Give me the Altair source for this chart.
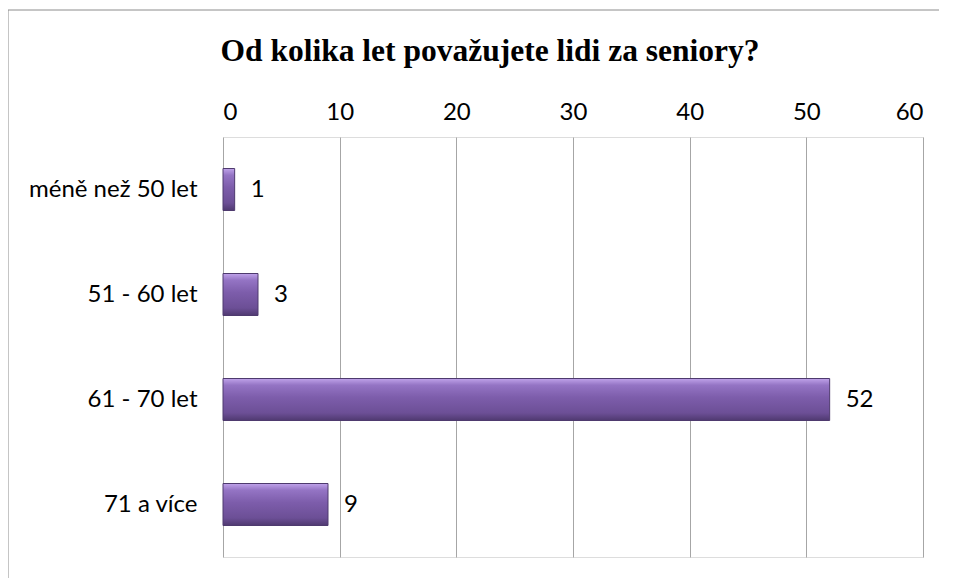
import altair as alt
import pandas as pd

categories = ["méně než 50 let", "51 - 60 let", "61 - 70 let", "71 a více"]
values = [1, 3, 52, 9]
x_ticks = [0, 10, 20, 30, 40, 50, 60]
title_text = "Od kolika let považujete lidi za seniory?"

df = pd.DataFrame({"cat": categories, "val": values})

LABEL_FONT = "Lato"
LABEL_SIZE = 24

x_enc = alt.X(
    "val:Q",
    scale=alt.Scale(domain=[0, 60], nice=False),
    axis=alt.Axis(
        orient="top", values=x_ticks, title=None, grid=True, gridColor="#a6a6a6",
        gridWidth=1, domain=False, ticks=False, labelPadding=13,
        labelFont=LABEL_FONT, labelFontSize=LABEL_SIZE, labelColor="#000000",
    ),
)
y_enc = alt.Y(
    "cat:N", sort=categories,
    scale=alt.Scale(paddingInner=0.6, paddingOuter=0.3),
    axis=alt.Axis(
        title=None, domain=False, ticks=False, labelPadding=26, grid=False,
        labelFont=LABEL_FONT, labelFontSize=LABEL_SIZE, labelColor="#000000",
        labelLimit=300,
    ),
)

grad = alt.Gradient(
    gradient="linear", x1=0, x2=0, y1=0, y2=1,
    stops=[
        alt.GradientStop(color="#c0a3ea", offset=0),
        alt.GradientStop(color="#9474c4", offset=0.16),
        alt.GradientStop(color="#7d5dab", offset=0.45),
        alt.GradientStop(color="#6c4f96", offset=0.82),
        alt.GradientStop(color="#4f3970", offset=1),
    ],
)

bars = alt.Chart(df).mark_bar(
    fill=grad, stroke="#4e3a6e", strokeWidth=1
).encode(x=x_enc, y=y_enc)

labels = alt.Chart(df).mark_text(
    align="left", baseline="middle", dx=16, font=LABEL_FONT, fontSize=LABEL_SIZE, color="#000000"
).encode(x="val:Q", y=alt.Y("cat:N", sort=categories), text="val:Q")

title_df = pd.DataFrame({"t": [title_text]})
title = alt.Chart(title_df).mark_text(
    font="Liberation Serif", fontWeight="bold", fontSize=31.5, color="#000000",
    align="center", baseline="alphabetic"
).encode(x=alt.value(267), y=alt.value(-76), text="t:N")

frame_df = pd.DataFrame({"k": [1]})
top_border = alt.Chart(frame_df).mark_rule(color="#8c8c8c", strokeWidth=1).encode(
    x=alt.value(-215), x2=alt.value(716), y=alt.value(-127)
)
left_border = alt.Chart(frame_df).mark_rule(color="#8c8c8c", strokeWidth=1).encode(
    x=alt.value(-215), y=alt.value(-127), y2=alt.value(460)
)

chart = alt.layer(bars, labels, title, top_border, left_border).properties(
    width=700, height=420,
    autosize=alt.AutoSizeParams(type="none"),
    padding={"left": 215, "top": 129, "right": 16, "bottom": 21},
).configure_view(stroke=None).configure(background="white")

chart.save("out.html", embed_options={"renderer": "svg", "actions": False})
